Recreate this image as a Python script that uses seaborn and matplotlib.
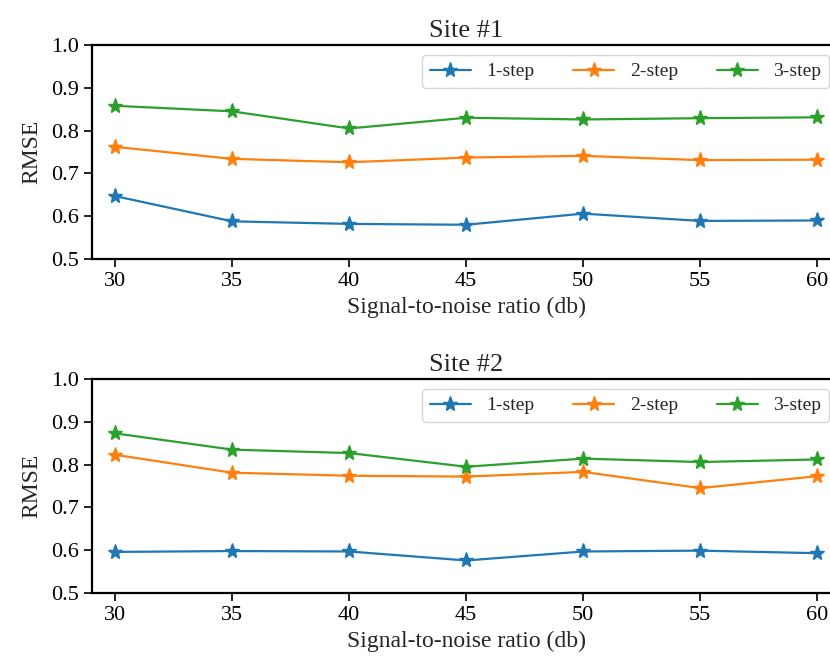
import matplotlib
matplotlib.use("Agg")
import matplotlib.pyplot as plt
import seaborn as sns
import pandas as pd

snr = [30, 35, 40, 45, 50, 55, 60]
series_names = ["1-step", "2-step", "3-step"]

site1_step1 = [0.647, 0.588, 0.582, 0.580, 0.606, 0.589, 0.590]
site1_step2 = [0.762, 0.734, 0.726, 0.737, 0.741, 0.731, 0.732]
site1_step3 = [0.858, 0.845, 0.805, 0.830, 0.826, 0.829, 0.831]

site2_step1 = [0.596, 0.598, 0.597, 0.576, 0.597, 0.599, 0.593]
site2_step2 = [0.823, 0.781, 0.774, 0.772, 0.783, 0.745, 0.773]
site2_step3 = [0.873, 0.835, 0.827, 0.795, 0.814, 0.806, 0.812]

titles = ["Site #1", "Site #2"]
xlabel = "Signal-to-noise ratio (db)"
ylabel = "RMSE"
yticks = [0.5, 0.6, 0.7, 0.8, 0.9, 1.0]

sns.set_style("ticks")
plt.rcParams["font.family"] = ["Liberation Serif", "DejaVu Serif"]

fig = plt.figure(figsize=(8.3, 6.64), dpi=100)
W, H = 830, 664
left_px, right_px = 91.7, 840.6
positions = [(45, 259), (379, 593)]
datasets = [[site1_step1, site1_step2, site1_step3],
            [site2_step1, site2_step2, site2_step3]]
palette = sns.color_palette("tab10", 3)

for (top, bottom), series, title in zip(positions, datasets, titles):
    ax = fig.add_axes([left_px / W, 1 - bottom / H,
                       (right_px - left_px) / W, (bottom - top) / H])
    for name, vals, col in zip(series_names, series, palette):
        df = pd.DataFrame({"snr": snr, "rmse": vals})
        sns.lineplot(data=df, x="snr", y="rmse", color=col, label=name,
                     marker="*", markersize=11, markeredgecolor=col,
                     markeredgewidth=1.0, linewidth=1.6, ax=ax)
    ax.set_xlim(29.0, 61.0)
    ax.set_ylim(0.5, 1.0)
    ax.set_xticks(snr)
    ax.set_yticks(yticks)
    ax.set_yticklabels([f"{t:.1f}" for t in yticks])
    ax.tick_params(labelsize=16, width=1.2, length=6, colors="black")
    for s in ax.spines.values():
        s.set_linewidth(1.6)
        s.set_color("black")
        s.set_visible(True)
    ax.set_xlabel(xlabel, fontsize=17, labelpad=4)
    ax.set_ylabel(ylabel, fontsize=17, labelpad=6)
    ax.set_title(title, fontsize=19, pad=6)
    ax.legend(loc="upper right", ncol=3, fontsize=14, frameon=True,
              bbox_to_anchor=(0.9844, 0.953), borderaxespad=0.0,
              handlelength=2.1, columnspacing=2.0, handletextpad=0.8)

fig.savefig("out.png", dpi=100)
